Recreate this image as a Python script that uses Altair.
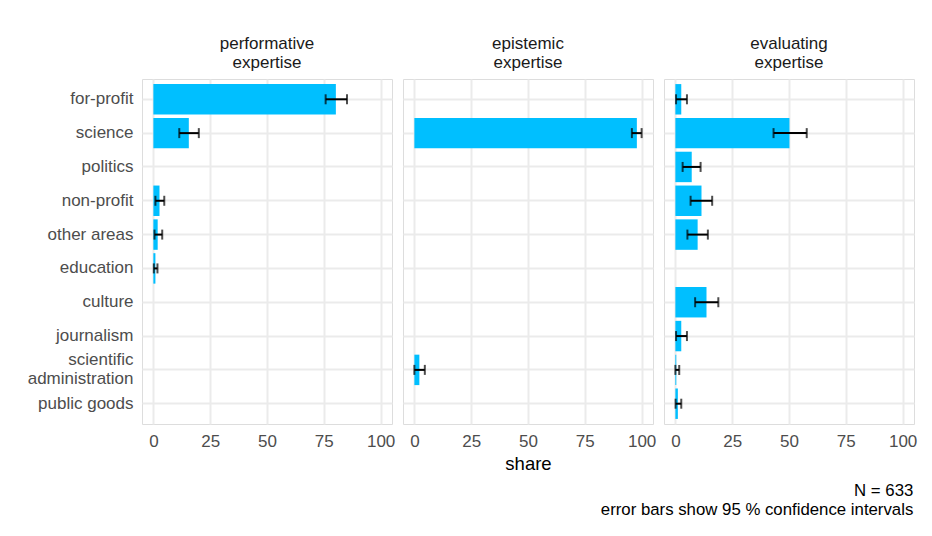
import altair as alt
import pandas as pd

categories = ["for-profit", "science", "politics", "non-profit", "other areas",
              "education", "culture", "journalism", "scientific administration",
              "public goods"]
panels = ["performative expertise", "epistemic expertise", "evaluating expertise"]

# share (%) and 95% CI per panel; None = not present
perf_share = [80.3, 15.6, None, 2.7, 1.9, 0.9, None, None, None, None]
perf_lo = [75.8, 11.4, None, 0.9, 0.5, 0.2, None, None, None, None]
perf_hi = [85.2, 20.0, None, 4.8, 3.9, 1.8, None, None, None, None]

epi_share = [None, 97.9, None, None, None, None, None, None, 2.2, None]
epi_lo = [None, 95.7, None, None, None, None, None, None, 0.0, None]
epi_hi = [None, 100.0, None, None, None, None, None, None, 4.6, None]

eval_share = [2.6, 50.2, 7.2, 11.5, 9.8, None, 13.7, 2.6, 0.4, 1.1]
eval_lo = [0.3, 43.2, 3.2, 6.7, 5.3, None, 8.7, 0.3, 0.0, 0.1]
eval_hi = [5.1, 57.8, 11.1, 16.2, 14.3, None, 18.9, 5.1, 1.7, 2.6]

series = [(perf_share, perf_lo, perf_hi), (epi_share, epi_lo, epi_hi),
          (eval_share, eval_lo, eval_hi)]

FONT = "Liberation Sans"
BAR = "#00BFFF"
GRID = "#ebebeb"
LABEL_SIZE = 17

x_ticks = [0, 12.5, 25, 37.5, 50, 62.5, 75, 87.5, 100]

charts = []
for i, (panel, (s, lo, hi)) in enumerate(zip(panels, series)):
    rows = [dict(category=c, share=v, lo=l, hi=h)
            for c, v, l, h in zip(categories, s, lo, hi) if v is not None]
    df = pd.DataFrame(rows)

    y = alt.Y("category:N", sort=categories,
              scale=alt.Scale(domain=categories, paddingInner=0, paddingOuter=0.1),
              axis=alt.Axis(title=None, ticks=False, domain=False, grid=True,
                            gridColor=GRID, gridWidth=2,
                            labels=(i == 0), labelPadding=9 if i == 0 else 0,
                            labelFont=FONT, labelFontSize=LABEL_SIZE, labelColor="#4d4d4d",
                            labelExpr="datum.value == 'scientific administration' ? ['scientific', 'administration'] : datum.value",
                            labelOffset={"condition": {"test": "datum.value == 'scientific administration'", "value": -9.5}, "value": 0},
                            labelLineHeight=19))
    xscale = alt.Scale(domain=[-5, 105], nice=False, zero=False)
    xaxis = alt.Axis(title="share" if i == 1 else None, values=x_ticks,
                     labelExpr="datum.value % 25 === 0 ? datum.label : ''",
                     ticks=False, domain=False, grid=True, gridColor=GRID,
                     gridWidth={"condition": {"test": "datum.value % 25 === 0", "value": 2}, "value": 1},
                     labelFont=FONT, labelFontSize=LABEL_SIZE, labelColor="#4d4d4d",
                     labelPadding=9, titleFont=FONT, titleFontSize=18.5,
                     titleFontWeight="normal", titleColor="black", titlePadding=5)

    base = alt.Chart(df)
    bars = base.mark_bar(color=BAR, height={"band": 0.9}).encode(
        x=alt.X("share:Q", scale=xscale, axis=xaxis), y=y)
    err = base.mark_rule(color="black", strokeWidth=2).encode(
        x=alt.X("lo:Q", scale=xscale), x2="hi:Q", y=y)
    cap_lo = base.mark_tick(color="black", thickness=2, size=10).encode(
        x=alt.X("lo:Q", scale=xscale), y=y)
    cap_hi = base.mark_tick(color="black", thickness=2, size=10).encode(
        x=alt.X("hi:Q", scale=xscale), y=y)

    layer = alt.layer(bars, err, cap_lo, cap_hi).properties(
        width=250, height=345,
        title=alt.Title(panel.split(" "), frame="group", anchor="middle",
                        font=FONT, fontSize=LABEL_SIZE, fontWeight="normal",
                        color="#1a1a1a", lineHeight=19, offset=7))
    charts.append(layer)

chart = alt.hconcat(*charts, spacing=11, bounds="flush").properties(
    title=alt.Title(["N = 633", "error bars show 95 % confidence intervals"],
                    orient="bottom", anchor="end", font=FONT, fontSize=16.8,
                    fontWeight="normal", color="black", lineHeight=18.5, offset=10,
                    dx=-4),
    padding={"left": 18, "top": 26, "right": 5, "bottom": 5},
).configure_view(stroke=None).configure(background="white")

chart.save("out.html", embed_options={"renderer": "svg", "actions": False})
